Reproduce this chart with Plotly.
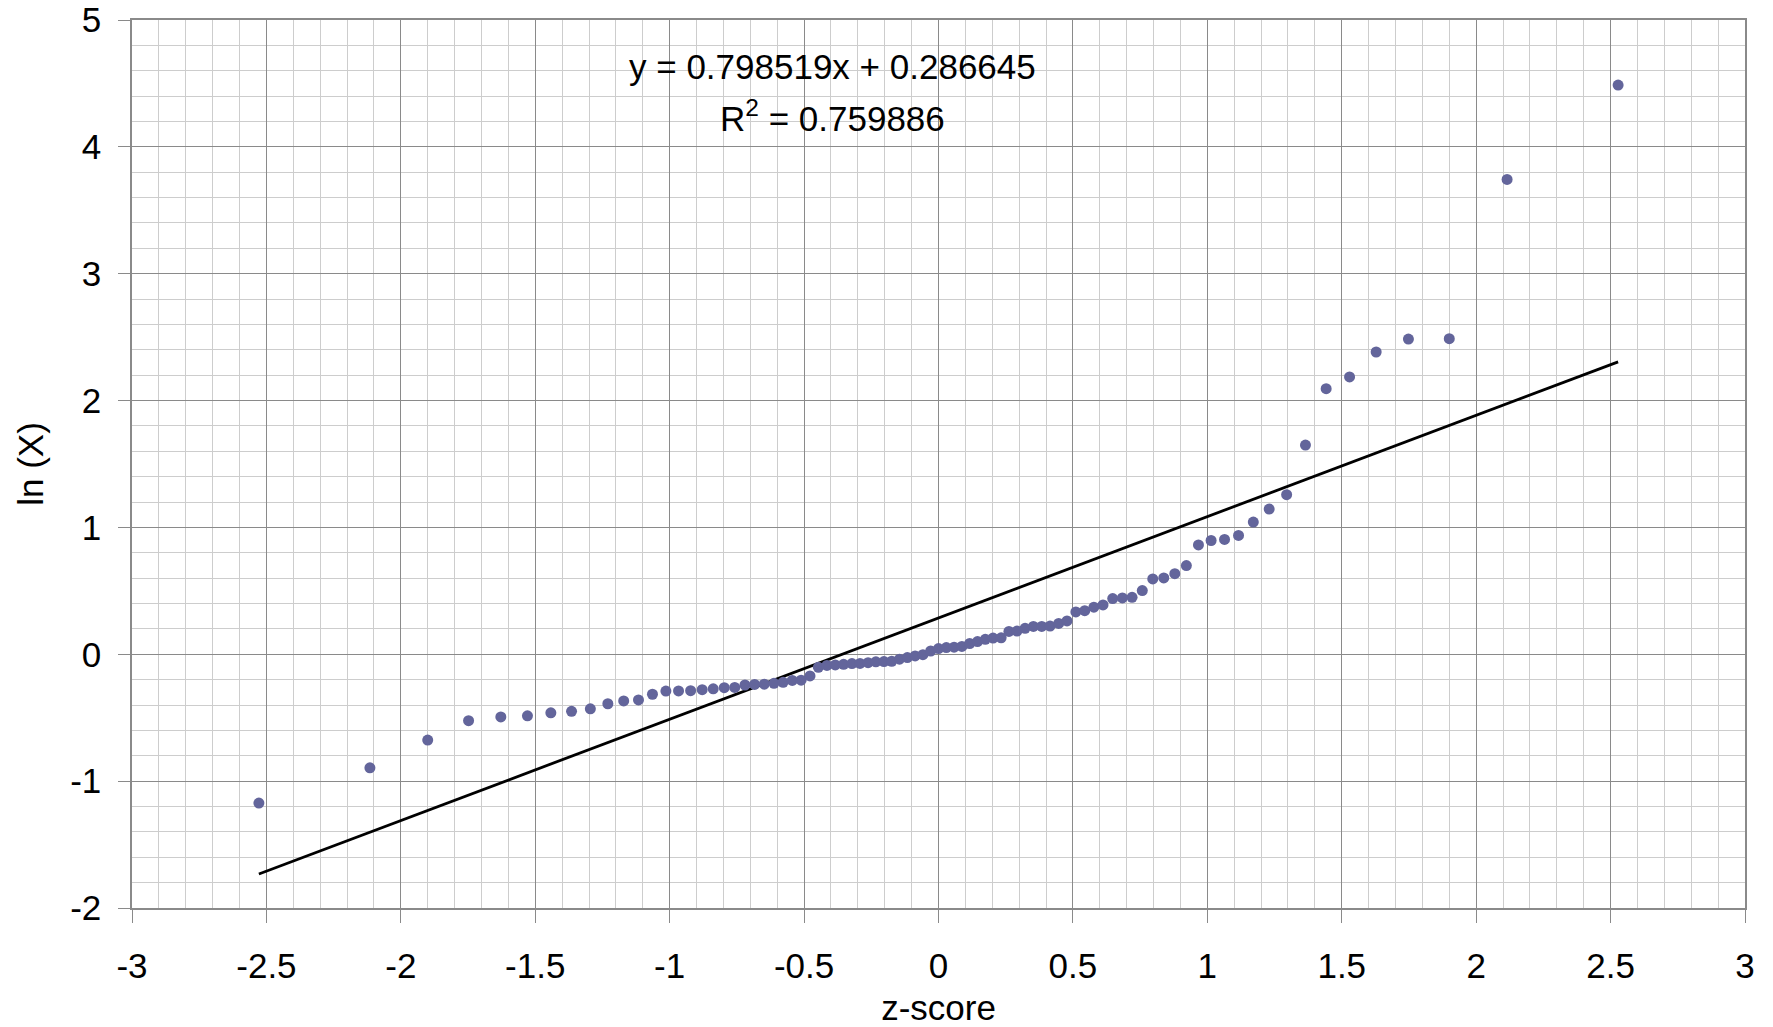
import plotly.graph_objects as go

# z-scores (normal quantiles)
z_scores = [
    -2.528, -2.115, -1.900, -1.748, -1.628, -1.529, -1.442, -1.365, -1.295, -1.230,
    -1.171, -1.116, -1.064, -1.014, -0.967, -0.922, -0.879, -0.838, -0.797, -0.758,
    -0.720, -0.684, -0.648, -0.612, -0.578, -0.544, -0.511, -0.478, -0.447, -0.415,
    -0.384, -0.353, -0.322, -0.292, -0.262, -0.233, -0.203, -0.174, -0.145, -0.116,
    -0.087, -0.058, -0.029, 0.000,
    0.029, 0.058, 0.087, 0.116, 0.145, 0.174, 0.203, 0.233, 0.262, 0.292,
    0.322, 0.353, 0.384, 0.415, 0.447, 0.478, 0.511, 0.544, 0.578, 0.612,
    0.648, 0.684, 0.720, 0.758, 0.797, 0.838, 0.879, 0.922, 0.967, 1.014,
    1.064, 1.116, 1.171, 1.230, 1.295, 1.365, 1.442, 1.529, 1.628, 1.748,
    1.900, 2.115, 2.528,
]

# ln(X) values
ln_x = [
    -1.173, -0.895, -0.676, -0.523, -0.494, -0.485, -0.461, -0.450, -0.430, -0.390,
    -0.368, -0.360, -0.315, -0.290, -0.289, -0.287, -0.279, -0.272, -0.263, -0.261,
    -0.242, -0.238, -0.236, -0.229, -0.221, -0.206, -0.204, -0.171, -0.103, -0.088,
    -0.084, -0.079, -0.073, -0.072, -0.066, -0.059, -0.057, -0.055, -0.039, -0.026,
    -0.013, -0.003, 0.026, 0.045,
    0.053, 0.056, 0.062, 0.085, 0.100, 0.118, 0.128, 0.130, 0.180, 0.183,
    0.205, 0.220, 0.220, 0.222, 0.243, 0.263, 0.334, 0.344, 0.371, 0.389,
    0.439, 0.444, 0.449, 0.502, 0.594, 0.602, 0.635, 0.699, 0.862, 0.897,
    0.905, 0.937, 1.042, 1.145, 1.258, 1.649, 2.094, 2.186, 2.383, 2.485,
    2.488, 3.743, 4.487,
]

# Trendline as stated on the chart
slope = 0.798519
intercept = 0.286645
r_squared = 0.759886

x_tick_vals = [-3, -2.5, -2, -1.5, -1, -0.5, 0, 0.5, 1, 1.5, 2, 2.5, 3]
x_tick_text = ["-3", "-2.5", "-2", "-1.5", "-1", "-0.5", "0", "0.5", "1", "1.5", "2", "2.5", "3"]
y_tick_vals = [-2, -1, 0, 1, 2, 3, 4, 5]
y_tick_text = ["-2", "-1", "0", "1", "2", "3", "4", "5"]

FONT = "Liberation Sans, Arial, sans-serif"
MAJOR = "#8a8a8a"
MINOR = "#cdcdcd"

x_line = [min(z_scores), max(z_scores)]
y_line = [slope * v + intercept for v in x_line]

fig = go.Figure()
fig.add_trace(go.Scatter(
    x=x_line, y=y_line, mode="lines",
    line=dict(color="black", width=2.8), showlegend=False, hoverinfo="skip",
))
fig.add_trace(go.Scatter(
    x=z_scores, y=ln_x, mode="markers",
    marker=dict(color="#63659B", size=11, line=dict(width=0)),
    showlegend=False,
))

fig.add_annotation(
    x=-0.393, y=4.63, xref="x", yref="y", showarrow=False,
    text=f"y = {slope:.6f}x + {intercept:.6f}",
    font=dict(family=FONT, size=35, color="black"),
    xanchor="center", yanchor="middle",
)
fig.add_annotation(
    x=-0.393, y=4.24, xref="x", yref="y", showarrow=False,
    text=f"R<sup>2</sup> = {r_squared:.6f}",
    font=dict(family=FONT, size=35, color="black"),
    xanchor="center", yanchor="middle",
)

fig.update_layout(
    width=1773, height=1027,
    margin=dict(l=132, r=28, t=20, b=119, autoexpand=False),
    paper_bgcolor="white", plot_bgcolor="white",
    font=dict(family=FONT, size=35, color="black"),
)
fig.update_xaxes(
    range=[-3, 3], tickmode="array", tickvals=x_tick_vals, ticktext=x_tick_text,
    showgrid=True, gridcolor=MAJOR, gridwidth=1,
    minor=dict(tickmode="linear", tick0=0, dtick=0.1, showgrid=True,
               gridcolor=MINOR, gridwidth=1, ticks=""),
    showline=True, linecolor=MAJOR, linewidth=1.5, mirror=True,
    ticks="outside", ticklen=13, tickcolor=MAJOR, tickwidth=1,
    tickfont=dict(family=FONT, size=35, color="black"),
    ticklabelstandoff=13, ticklabeloverflow="allow",
    zeroline=False,
    title=dict(text="z-score", font=dict(family=FONT, size=35, color="black"), standoff=17),
    automargin=False,
)
fig.update_yaxes(
    range=[-2, 5], tickmode="array", tickvals=y_tick_vals, ticktext=y_tick_text,
    showgrid=True, gridcolor=MAJOR, gridwidth=1,
    minor=dict(tickmode="linear", tick0=0, dtick=0.2, showgrid=True,
               gridcolor=MINOR, gridwidth=1, ticks=""),
    showline=True, linecolor=MAJOR, linewidth=1.5, mirror=True,
    ticks="outside", ticklen=12, tickcolor=MAJOR, tickwidth=1,
    tickfont=dict(family=FONT, size=35, color="black"),
    ticklabelstandoff=10, ticklabeloverflow="allow",
    zeroline=False,
    title=dict(text="ln (X)", font=dict(family=FONT, size=35, color="black"), standoff=16),
    automargin=False,
)

# remove the default page margin so the figure fills the window exactly
fig.write_html(
    "out.html",
    config={"displayModeBar": False},
    post_script="document.body.style.margin='0';",
)
